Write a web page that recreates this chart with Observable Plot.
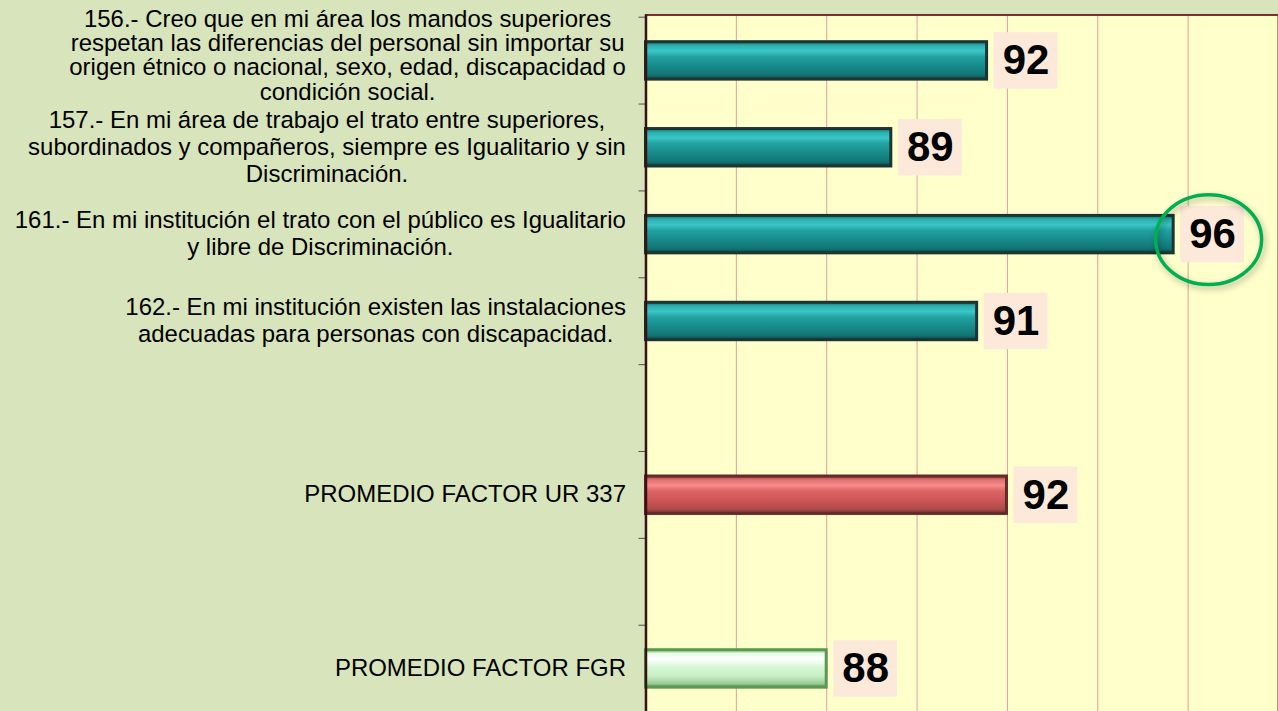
<!DOCTYPE html>
<html><head><meta charset="utf-8">
<script src="https://cdn.jsdelivr.net/npm/d3@7"></script>
<script src="https://cdn.jsdelivr.net/npm/@observablehq/plot@0.6"></script>
<style>
html,body{margin:0;padding:0;background:#d8e4bc;overflow:hidden;}
#chart svg{display:block;}
</style></head><body><div id="chart"></div>
<script>
// ---- data ----
const rowKeys = ["p156", "p157", "p161", "p162", "blank1", "ur337", "blank2", "fgr"];
const rowLabels = [
  ["156.- Creo que en mi área los mandos superiores",
   "respetan las diferencias del personal sin importar su",
   "origen étnico o nacional, sexo, edad, discapacidad o",
   "condición social."],
  ["157.- En mi área de trabajo el trato entre superiores,",
   "subordinados y compañeros, siempre es Igualitario y sin",
   "Discriminación."],
  ["161.- En mi institución el trato con el público es Igualitario",
   "y libre de Discriminación."],
  ["162.- En mi institución existen las instalaciones",
   "adecuadas para personas con discapacidad."],
  [],
  ["PROMEDIO FACTOR UR 337"],
  [],
  ["PROMEDIO FACTOR FGR"]
];
const values = [91.55, 89.43, 95.68, 91.33, null, 91.99, null, 88.0];
const valueLabels = ["92", "89", "96", "91", "", "92", "", "88"];
const barKinds = ["pregunta", "pregunta", "pregunta", "pregunta", null, "ur", null, "fgr"];
const highlightKey = "p161";
const xDomain = [84, 98];
const xGrid = [86, 88, 90, 92, 94, 96];

// ---- layout ----
const FONT = "'Liberation Sans', Arial, Helvetica, sans-serif";
const W = 1280, H = 715, ML = 646.5, MT = 14.5;
const step = (H - MT) / rowKeys.length;
const ctx = document.createElement("canvas").getContext("2d");
ctx.font = `24px ${FONT}`;
const blockWidth = lines => d3.max(lines, l => ctx.measureText(l).width) || 0;

const rows = rowKeys.map((k, i) => ({key: k, lines: rowLabels[i], value: values[i], label: valueLabels[i], kind: barKinds[i]}));
const bars = rows.filter(d => d.value != null);

const fills = {pregunta: "url(#gTeal)", ur: "url(#gRed)", fgr: "url(#gGreen)"};
const strokes = {pregunta: "#1c3532", ur: "#652a2a", fgr: "#5a9a50"};

const ellipse = {
  draw(c, size) {
    const r = Math.sqrt(size / Math.PI), rx = r * 1.18, ry = r, k = 0.5523;
    c.moveTo(rx, 0);
    c.bezierCurveTo(rx, ry * k, rx * k, ry, 0, ry);
    c.bezierCurveTo(-rx * k, ry, -rx, ry * k, -rx, 0);
    c.bezierCurveTo(-rx, -ry * k, -rx * k, -ry, 0, -ry);
    c.bezierCurveTo(rx * k, -ry, rx, -ry * k, rx, 0);
    c.closePath();
  }
};

// tall (4-line) blocks are set a little tighter and higher, as in the reference
const labelMarks = rows.filter(d => d.lines.length).map(d => {
  const tall = d.lines.length > 3;
  return Plot.text([d], {
    y: "key", frameAnchor: "left", text: r => r.lines.join("\n"),
    textAnchor: "middle", lineAnchor: "middle", lineHeight: tall ? 1.02 : 1.13,
    fontSize: 24, fill: "#000", dy: tall ? -5.5 : -1.5, dx: -(20 + blockWidth(d.lines) / 2)
  });
});

const chart = Plot.plot({
  width: W, height: H,
  marginLeft: ML, marginRight: 0, marginTop: MT, marginBottom: 0,
  x: {domain: xDomain, axis: null},
  y: {domain: rowKeys, padding: 0, axis: null},
  style: {background: "#d8e4bc", fontFamily: FONT, overflow: "visible"},
  marks: [
    Plot.frame({fill: "#ffffcc"}),
    Plot.ruleX(xGrid, {stroke: "#dba0a0", strokeWidth: 1}),
    Plot.frame({stroke: "#7a2e2e", strokeWidth: 2, fill: "none"}),
    Plot.ruleY(rowKeys, {y: d => d, x1: xDomain[0], x2: xDomain[0], dy: -step / 2, insetLeft: -7, stroke: "#505050", strokeWidth: 1}),
    ...Object.keys(fills).map(kind => Plot.barX(bars.filter(d => d.kind === kind), {
      x1: xDomain[0], x2: "value", y: "key", insetTop: 24.75, insetBottom: 24.75,
      fill: fills[kind], stroke: strokes[kind], strokeWidth: 3
    })),
    Plot.ruleX([xDomain[0]], {stroke: "#3a1212", strokeWidth: 2.5}),
    Plot.barX(bars, {x1: "value", x2: "value", y: "key", insetLeft: 7, insetRight: -71, insetTop: 15.25, insetBottom: 15.25, fill: "#fde9d9"}),
    Plot.text(bars, {x: "value", y: "key", text: "label", dx: 39, fontSize: 42, fontWeight: "bold", fill: "#000"}),
    Plot.dot(bars.filter(d => d.key === highlightKey), {x: "value", y: "key", dx: 35, dy: 5, r: 45, symbol: ellipse, stroke: "#00b050", strokeWidth: 3.5, fill: "none"}),
    ...labelMarks
  ]
});

const svg = d3.select(chart);
const defs = svg.insert("defs", ":first-child");
function grad(id, stops) {
  const g = defs.append("linearGradient").attr("id", id).attr("x1", 0).attr("y1", 0).attr("x2", 0).attr("y2", 1);
  stops.forEach(([o, c]) => g.append("stop").attr("offset", o).attr("stop-color", c));
}
grad("gTeal", [[0, "#1a6a68"], [0.1, "#2bb0b0"], [0.25, "#3cc6c6"], [0.4, "#22a2a2"], [0.65, "#178b8b"], [0.88, "#137575"], [1, "#0d4745"]]);
grad("gRed", [[0, "#8a3e3e"], [0.1, "#e27070"], [0.25, "#f88c8c"], [0.4, "#de6464"], [0.65, "#cc5656"], [0.88, "#b24a4a"], [1, "#6e3030"]]);
grad("gGreen", [[0, "#7cc070"], [0.1, "#e8fbe8"], [0.25, "#ffffff"], [0.45, "#d6f8d6"], [0.7, "#c6f0c6"], [0.9, "#9ccc98"], [1, "#5f8f58"]]);
svg.selectAll("g[aria-label=dot] path").style("filter", "drop-shadow(2px 3px 3px rgba(0,0,0,0.3))");

document.getElementById("chart").appendChild(chart);
</script>
</body></html>
